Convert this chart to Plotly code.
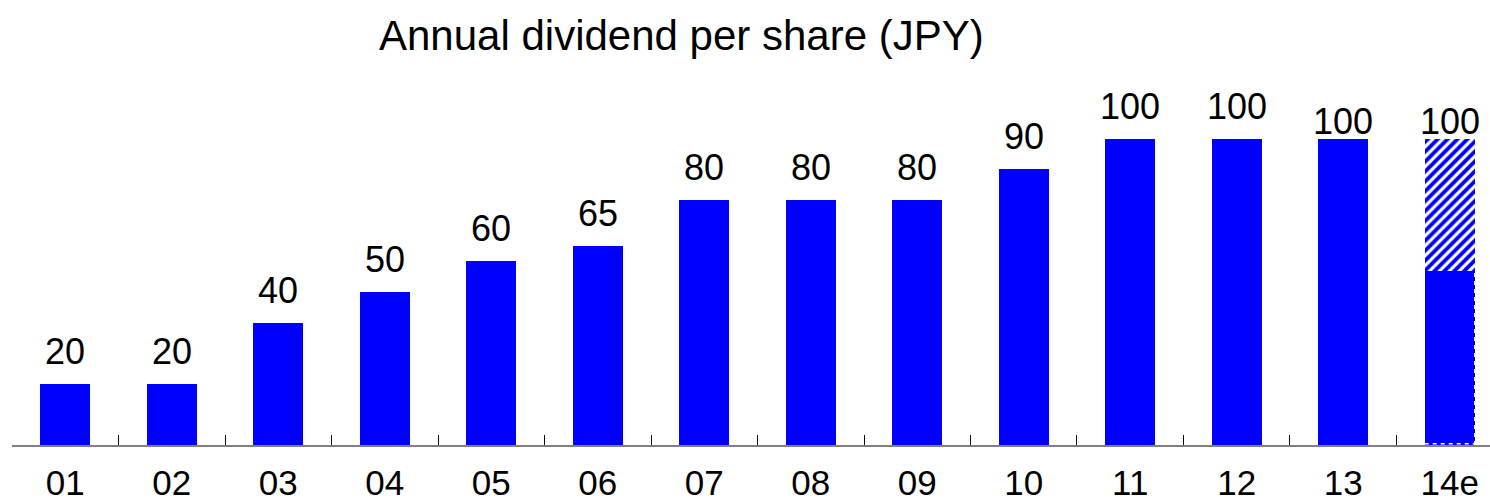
import plotly.graph_objects as go

# ---- data ----
years = ["01", "02", "03", "04", "05", "06", "07", "08", "09", "10", "11", "12", "13", "14e"]
dividend = [20, 20, 40, 50, 60, 65, 80, 80, 80, 90, 100, 100, 100, 100]
# 14e: portion already declared (solid) vs. remaining forecast (hatched)
declared_14e = 57
title_text = "Annual dividend per share (JPY)"

# ---- style ----
BLUE = "#0000FF"
FONT = "Liberation Sans, Arial, sans-serif"
BAR_W = 0.47
label_lift = [10] * 12 + [-5, -5]   # pixel lift of value labels (last two sit lower)

n = len(years)
solid = dividend[:-1] + [declared_14e]
hatched = [0] * (n - 1) + [dividend[-1] - declared_14e]

fig = go.Figure()
fig.add_trace(go.Bar(
    x=years, y=solid, width=BAR_W,
    marker=dict(color=BLUE, line=dict(width=0)),
    hoverinfo="skip",
))
fig.add_trace(go.Bar(
    x=years, y=hatched, width=BAR_W,
    marker=dict(color="white", line=dict(width=0),
                pattern=dict(shape="/", fgcolor=BLUE, bgcolor="white",
                             fgopacity=1, size=7, solidity=0.55, fillmode="replace")),
    hoverinfo="skip",
))

# dashed outline on the estimate bar's declared part (right and bottom edges)
last = n - 1
fig.add_shape(type="line", xref="x", yref="y",
              x0=last + BAR_W / 2, x1=last + BAR_W / 2, y0=0, y1=declared_14e,
              line=dict(color="white", width=1.5, dash="4px,4px"), layer="above")
fig.add_shape(type="line", xref="x", yref="y",
              x0=last - BAR_W / 2, x1=last + BAR_W / 2, y0=0.4, y1=0.4,
              line=dict(color="white", width=1.5, dash="4px,4px"), layer="above")

for i, (v, lift) in enumerate(zip(dividend, label_lift)):
    fig.add_annotation(
        x=i, y=v, text=str(v), showarrow=False,
        xref="x", yref="y", yanchor="bottom", yshift=lift,
        font=dict(family=FONT, size=36, color="black"),
    )

fig.add_annotation(
    x=675 / 1490, y=1.0, xref="paper", yref="paper",
    yanchor="top", xanchor="center", yshift=70 - 10,
    text=title_text, showarrow=False,
    font=dict(family=FONT, size=42, color="black"),
)

fig.update_layout(
    width=1490, height=504,
    margin=dict(l=12, r=0, t=70, b=59),
    barmode="stack",
    showlegend=False,
    plot_bgcolor="white", paper_bgcolor="white",
    xaxis=dict(
        type="category",
        range=[-0.5, 13.378],
        automargin=False,
        ticks="inside", tickson="boundaries", ticklen=10,
        tickcolor="black", tickwidth=1,
        showline=True, linecolor="#808080", linewidth=2,
        showgrid=False, zeroline=False,
        tickfont=dict(family=FONT, size=35, color="black"),
        ticklabelstandoff=6,
    ),
    yaxis=dict(range=[0, 122.5], visible=False, showgrid=False, zeroline=False,
               automargin=False),
)

fig.write_html("out.html")
